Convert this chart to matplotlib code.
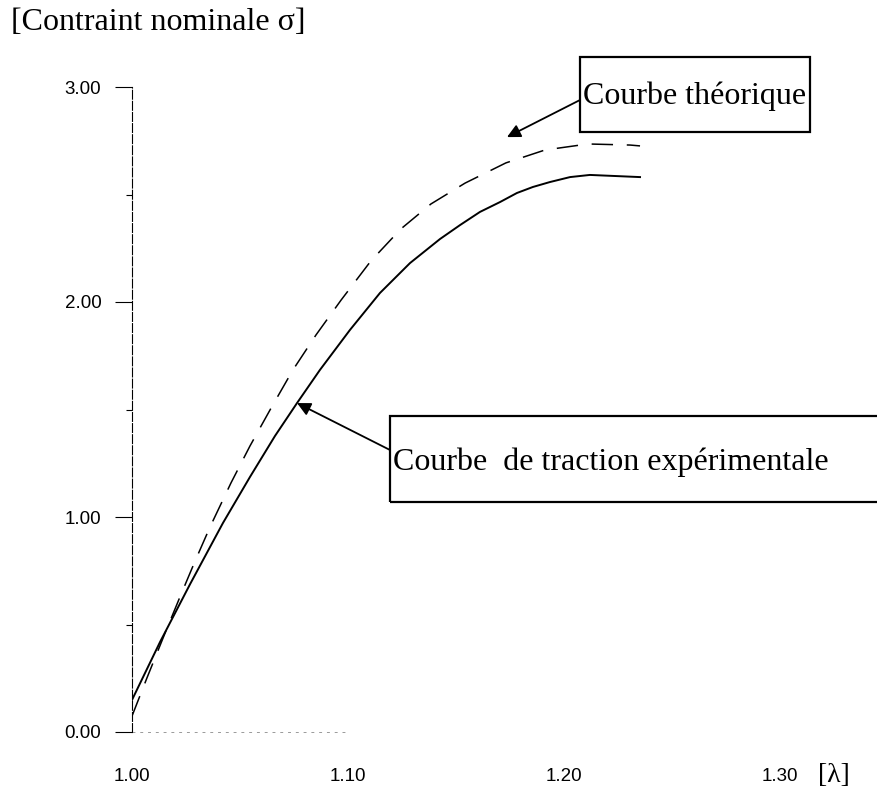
import matplotlib
matplotlib.use("Agg")
import matplotlib.pyplot as plt
from matplotlib.patches import Rectangle

# stretch ratio lambda and nominal stress sigma (experimental tensile curve)
lam_exp = [1.0000, 1.0130, 1.0269, 1.0421, 1.0546, 1.0662, 1.0764, 1.0870, 1.1009, 1.1148,
           1.1287, 1.1426, 1.1519, 1.1611, 1.1704, 1.1782, 1.1856, 1.1935, 1.2028, 1.2120,
           1.2236, 1.2352]
sig_exp = [0.149, 0.419, 0.688, 0.972, 1.186, 1.377, 1.530, 1.684, 1.870, 2.042,
           2.181, 2.293, 2.358, 2.419, 2.465, 2.507, 2.535, 2.558, 2.581, 2.591,
           2.586, 2.581]

# theoretical curve
lam_th = [1.0000, 1.0069, 1.0153, 1.0222, 1.0292, 1.0361, 1.0458, 1.0546, 1.0644, 1.0745,
          1.0852, 1.0968, 1.1106, 1.1245, 1.1384, 1.1542, 1.1731, 1.1912, 1.2111, 1.2306,
          1.2352]
sig_th = [0.074, 0.251, 0.460, 0.628, 0.795, 0.953, 1.158, 1.330, 1.507, 1.684,
          1.847, 2.009, 2.191, 2.340, 2.456, 2.553, 2.647, 2.707, 2.735, 2.730,
          2.726]

y_ticks = [0.0, 1.0, 2.0, 3.0]
y_minor = [0.5, 1.5, 2.5]
x_ticks = [1.00, 1.10, 1.20, 1.30]

W, H = 877, 796
fig = plt.figure(figsize=(W / 100, H / 100), dpi=100)
fig.patch.set_facecolor("white")


def fx(px):
    return px / W


def fy(py):
    return 1 - py / H


ax = fig.add_axes([fx(132), fy(732), fx(780) - fx(132), fy(87) - fy(732)])
ax.set_xlim(1.0, 1.30)
ax.set_ylim(0.0, 3.0)

ax.plot(lam_exp, sig_exp, color="black", lw=1.4, solid_joinstyle="round")
ax.plot(lam_th, sig_th, color="black", lw=1.1, dashes=(14, 9))

for s in ["top", "right", "bottom"]:
    ax.spines[s].set_visible(False)
ax.spines["left"].set_linewidth(0.8)
ax.spines["left"].set_linestyle((0, (8, 2)))

# faint broken baseline
ax.plot([1.0, 1.10], [0.0, 0.0], color="#999999", lw=0.7, dashes=(3, 5), clip_on=False)

ax.set_yticks(y_ticks)
ax.set_yticks(y_minor, minor=True)
ax.set_yticklabels([f"{v:.2f}" for v in y_ticks], fontfamily="Liberation Sans", fontsize=13.5)
ax.tick_params(axis="y", which="major", length=12, width=0.8, pad=10, direction="out")
ax.tick_params(axis="y", which="minor", length=4, width=0.8, direction="out")
ax.set_xticks(x_ticks)
ax.set_xticklabels([f"{v:.2f}" for v in x_ticks], fontfamily="Liberation Sans", fontsize=13.5)
ax.tick_params(axis="x", length=0, pad=26)

fig.text(fx(11), fy(22), "[Contraint nominale \u03c3]", fontfamily="Liberation Serif",
         fontsize=23, va="center", ha="left")
fig.text(fx(818), fy(775), "[\u03bb]", fontfamily="Liberation Serif",
         fontsize=20, va="center", ha="left")

# labelled boxes
box1 = Rectangle((fx(580), fy(132)), fx(810) - fx(580), fy(57) - fy(132),
                 transform=fig.transFigure, fill=False, ec="black", lw=1.6)
box2 = Rectangle((fx(390), fy(502)), fx(880) - fx(390), fy(416) - fy(502),
                 transform=fig.transFigure, fill=False, ec="black", lw=1.6)
fig.patches.extend([box1, box2])
fig.text(fx(583), fy(96), "Courbe th\u00e9orique", fontfamily="Liberation Serif",
         fontsize=23, va="center", ha="left")
fig.text(fx(393), fy(462), "Courbe  de traction exp\u00e9rimentale", fontfamily="Liberation Serif",
         fontsize=23, va="center", ha="left")

arrow = dict(arrowstyle="-|>", color="black", lw=1.3, mutation_scale=20, shrinkA=0, shrinkB=0)
ax.annotate("", xy=(1.1736, 2.767), xycoords="data",
            xytext=(fx(580), fy(100)), textcoords="figure fraction", arrowprops=arrow)
ax.annotate("", xy=(1.0764, 1.530), xycoords="data",
            xytext=(fx(390), fy(450)), textcoords="figure fraction", arrowprops=arrow)

fig.savefig("out.png", dpi=100)
